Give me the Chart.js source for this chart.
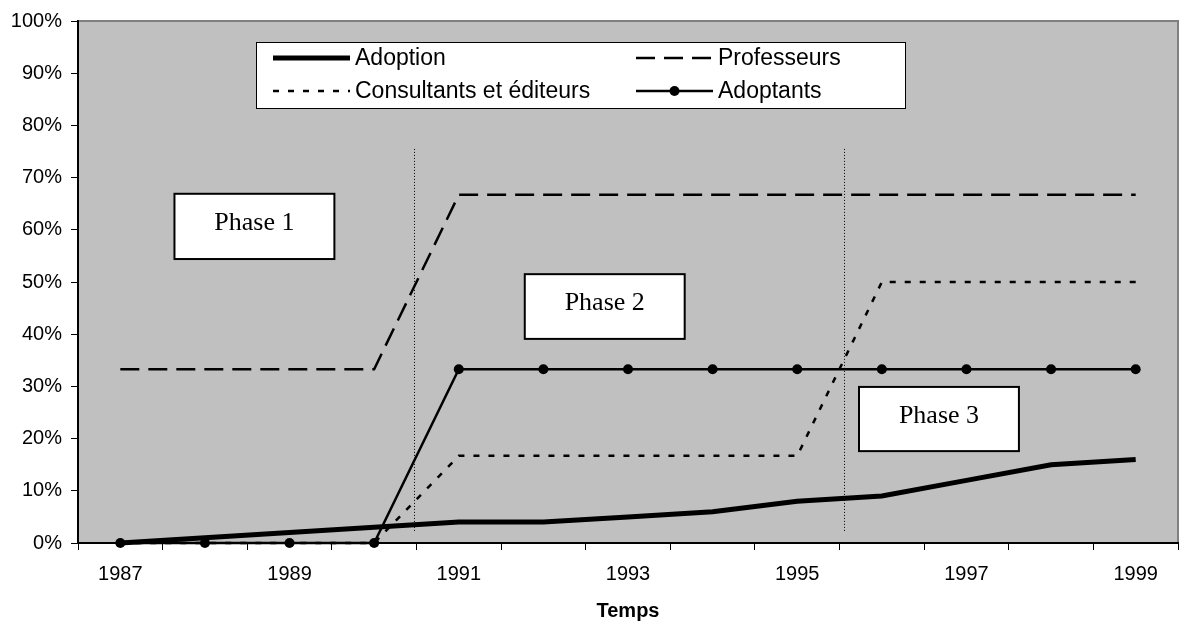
<!DOCTYPE html>
<html>
<head>
<meta charset="utf-8">
<script src="https://cdn.jsdelivr.net/npm/chart.js@4"></script>
<style>
  html, body { margin: 0; padding: 0; background: #fff; }
  #wrap { width: 1183px; height: 621px; position: relative; }
</style>
</head>
<body>
<div id="wrap"><canvas id="myChart"></canvas></div>
<script>
// years on the x axis
const years = ['1987', '1988', '1989', '1990', '1991', '1992', '1993', '1994', '1995', '1996', '1997', '1998', '1999'];

// series, in percent
const adoption = [0, 1, 2, 3, 4, 4, 5, 6, 8, 9, 12, 15, 16];
const professeurs = [33.3, 33.3, 33.3, 33.3, 66.7, 66.7, 66.7, 66.7, 66.7, 66.7, 66.7, 66.7, 66.7];
const consultants = [0, 0, 0, 0, 16.7, 16.7, 16.7, 16.7, 16.7, 50, 50, 50, 50];
const adoptants = [0, 0, 0, 0, 33.3, 33.3, 33.3, 33.3, 33.3, 33.3, 33.3, 33.3, 33.3];

// phase labels and their boxes (category index / percent)
const phaseLabels = ['Phase 1', 'Phase 2', 'Phase 3'];
const phaseBoxes = [
    { x0: 0.64, x1: 2.53, y0: 54.4, y1: 66.9 },
    { x0: 4.78, x1: 6.67, y0: 39.1, y1: 51.5 },
    { x0: 8.73, x1: 10.62, y0: 17.6, y1: 29.9 },
];
// dotted separators between phases
const separators = [3.47, 8.55];
const separatorRange = [2, 75.5];

const SANS = "'Liberation Sans', Arial, sans-serif";
const SERIF = "'Liberation Serif', 'Times New Roman', serif";

const plotBackground = {
    id: 'plotBackground',
    beforeDraw(chart) {
        const { ctx, chartArea: a } = chart;
        ctx.save();
        ctx.fillStyle = '#c0c0c0';
        ctx.fillRect(a.left, a.top, a.right - a.left, a.bottom - a.top);
        ctx.strokeStyle = '#808080';
        ctx.lineWidth = 2;
        ctx.beginPath();
        ctx.moveTo(a.left, a.top);
        ctx.lineTo(a.right, a.top);
        ctx.lineTo(a.right, a.bottom);
        ctx.stroke();
        ctx.restore();
    },
    beforeDatasetsDraw(chart) {
        const { ctx, scales: { x, y } } = chart;
        ctx.save();
        ctx.strokeStyle = '#000';
        ctx.lineWidth = 1;
        ctx.setLineDash([1, 2]);
        separators.forEach(function (v) {
            const px = Math.round(x.getPixelForValue(v)) + 0.5;
            ctx.beginPath();
            ctx.moveTo(px, y.getPixelForValue(separatorRange[1]));
            ctx.lineTo(px, y.getPixelForValue(separatorRange[0]));
            ctx.stroke();
        });
        ctx.restore();
    },
};

const overlays = {
    id: 'overlays',
    afterDatasetsDraw(chart) {
        const { ctx, scales: { x, y } } = chart;
        ctx.save();

        // phase boxes
        phaseBoxes.forEach(function (b, i) {
            const l = x.getPixelForValue(b.x0), r = x.getPixelForValue(b.x1);
            const t = y.getPixelForValue(b.y1), btm = y.getPixelForValue(b.y0);
            ctx.fillStyle = '#fff';
            ctx.fillRect(l, t, r - l, btm - t);
            ctx.strokeStyle = '#000';
            ctx.lineWidth = 2;
            ctx.setLineDash([]);
            ctx.strokeRect(l, t, r - l, btm - t);
            ctx.fillStyle = '#000';
            ctx.font = '26px ' + SERIF;
            ctx.textAlign = 'center';
            ctx.textBaseline = 'middle';
            ctx.fillText(phaseLabels[i], (l + r) / 2, (t + btm) / 2 - 3);
        });

        // legend box, two columns
        const box = { left: 256, top: 42, right: 905, bottom: 108 };
        ctx.fillStyle = '#fff';
        ctx.fillRect(box.left, box.top, box.right - box.left, box.bottom - box.top);
        ctx.strokeStyle = '#000';
        ctx.lineWidth = 1;
        ctx.strokeRect(box.left + 0.5, box.top + 0.5, box.right - box.left, box.bottom - box.top);

        chart.data.datasets.forEach(function (ds, i) {
            const col = i % 2, row = Math.floor(i / 2);
            const x0 = 273 + col * 363;
            const yy = 58 + row * 33;
            ctx.strokeStyle = ds.borderColor;
            ctx.lineWidth = ds.borderWidth;
            ctx.setLineDash(ds.borderDash || []);
            ctx.beginPath();
            ctx.moveTo(x0, yy);
            ctx.lineTo(x0 + 77, yy);
            ctx.stroke();
            ctx.setLineDash([]);
            if (ds.pointRadius > 0) {
                ctx.fillStyle = ds.pointBackgroundColor;
                ctx.beginPath();
                ctx.arc(x0 + 38.5, yy, ds.pointRadius, 0, Math.PI * 2);
                ctx.fill();
            }
            ctx.fillStyle = '#000';
            ctx.font = '23px ' + SANS;
            ctx.textAlign = 'left';
            ctx.textBaseline = 'middle';
            ctx.fillText(ds.label, x0 + 82, yy + 1);
        });
        ctx.restore();
    },
};

const ctx = document.getElementById('myChart').getContext('2d');

new Chart(ctx, {
    type: 'line',
    data: {
        labels: years,
        datasets: [
            {
                label: 'Adoption',
                data: adoption,
                borderColor: '#000',
                borderWidth: 5,
                pointRadius: 0,
                tension: 0,
                clip: false,
            },
            {
                label: 'Professeurs',
                data: professeurs,
                borderColor: '#000',
                borderWidth: 2.5,
                borderDash: [19, 9],
                pointRadius: 0,
                tension: 0,
                clip: false,
            },
            {
                label: 'Consultants et éditeurs',
                data: consultants,
                borderColor: '#000',
                borderWidth: 2.5,
                borderDash: [6, 9],
                pointRadius: 0,
                tension: 0,
                clip: false,
            },
            {
                label: 'Adoptants',
                data: adoptants,
                borderColor: '#000',
                borderWidth: 2.5,
                pointRadius: 5,
                pointBackgroundColor: '#000',
                pointBorderColor: '#000',
                pointBorderWidth: 0,
                tension: 0,
                clip: false,
            },
        ],
    },
    options: {
        responsive: true,
        maintainAspectRatio: false,
        animation: false,
        layout: {
            padding: { top: 21, right: 1, left: 0, bottom: 0 },
        },
        plugins: {
            legend: { display: false },
            tooltip: { enabled: false },
        },
        scales: {
            x: {
                offset: true,
                grid: {
                    offset: true,
                    drawOnChartArea: false,
                    drawTicks: true,
                    tickLength: 7,
                    color: '#000',
                    lineWidth: 1,
                },
                border: { display: true, color: '#000', width: 2 },
                ticks: {
                    color: '#000',
                    font: { family: SANS, size: 20 },
                    padding: 12,
                    autoSkip: false,
                    maxRotation: 0,
                    callback: function (value, index) {
                        return index % 2 === 0 ? this.getLabelForValue(value) : '';
                    },
                },
                title: {
                    display: true,
                    text: 'Temps',
                    color: '#000',
                    font: { family: SANS, size: 20, weight: 'bold', lineHeight: 1 },
                    padding: { top: 0, bottom: 0 },
                },
                afterFit: function (scale) {
                    scale.height = 78;
                },
            },
            y: {
                min: 0,
                max: 100,
                grid: {
                    drawOnChartArea: false,
                    drawTicks: true,
                    tickLength: 7,
                    color: '#000',
                    lineWidth: 1,
                },
                border: { display: true, color: '#000', width: 2 },
                ticks: {
                    stepSize: 10,
                    color: '#000',
                    font: { family: SANS, size: 20 },
                    padding: 9,
                    callback: function (value) {
                        return value + '%';
                    },
                },
                afterFit: function (scale) {
                    scale.width = 78;
                },
            },
        },
    },
    plugins: [plotBackground, overlays],
});
</script>
</body>
</html>
